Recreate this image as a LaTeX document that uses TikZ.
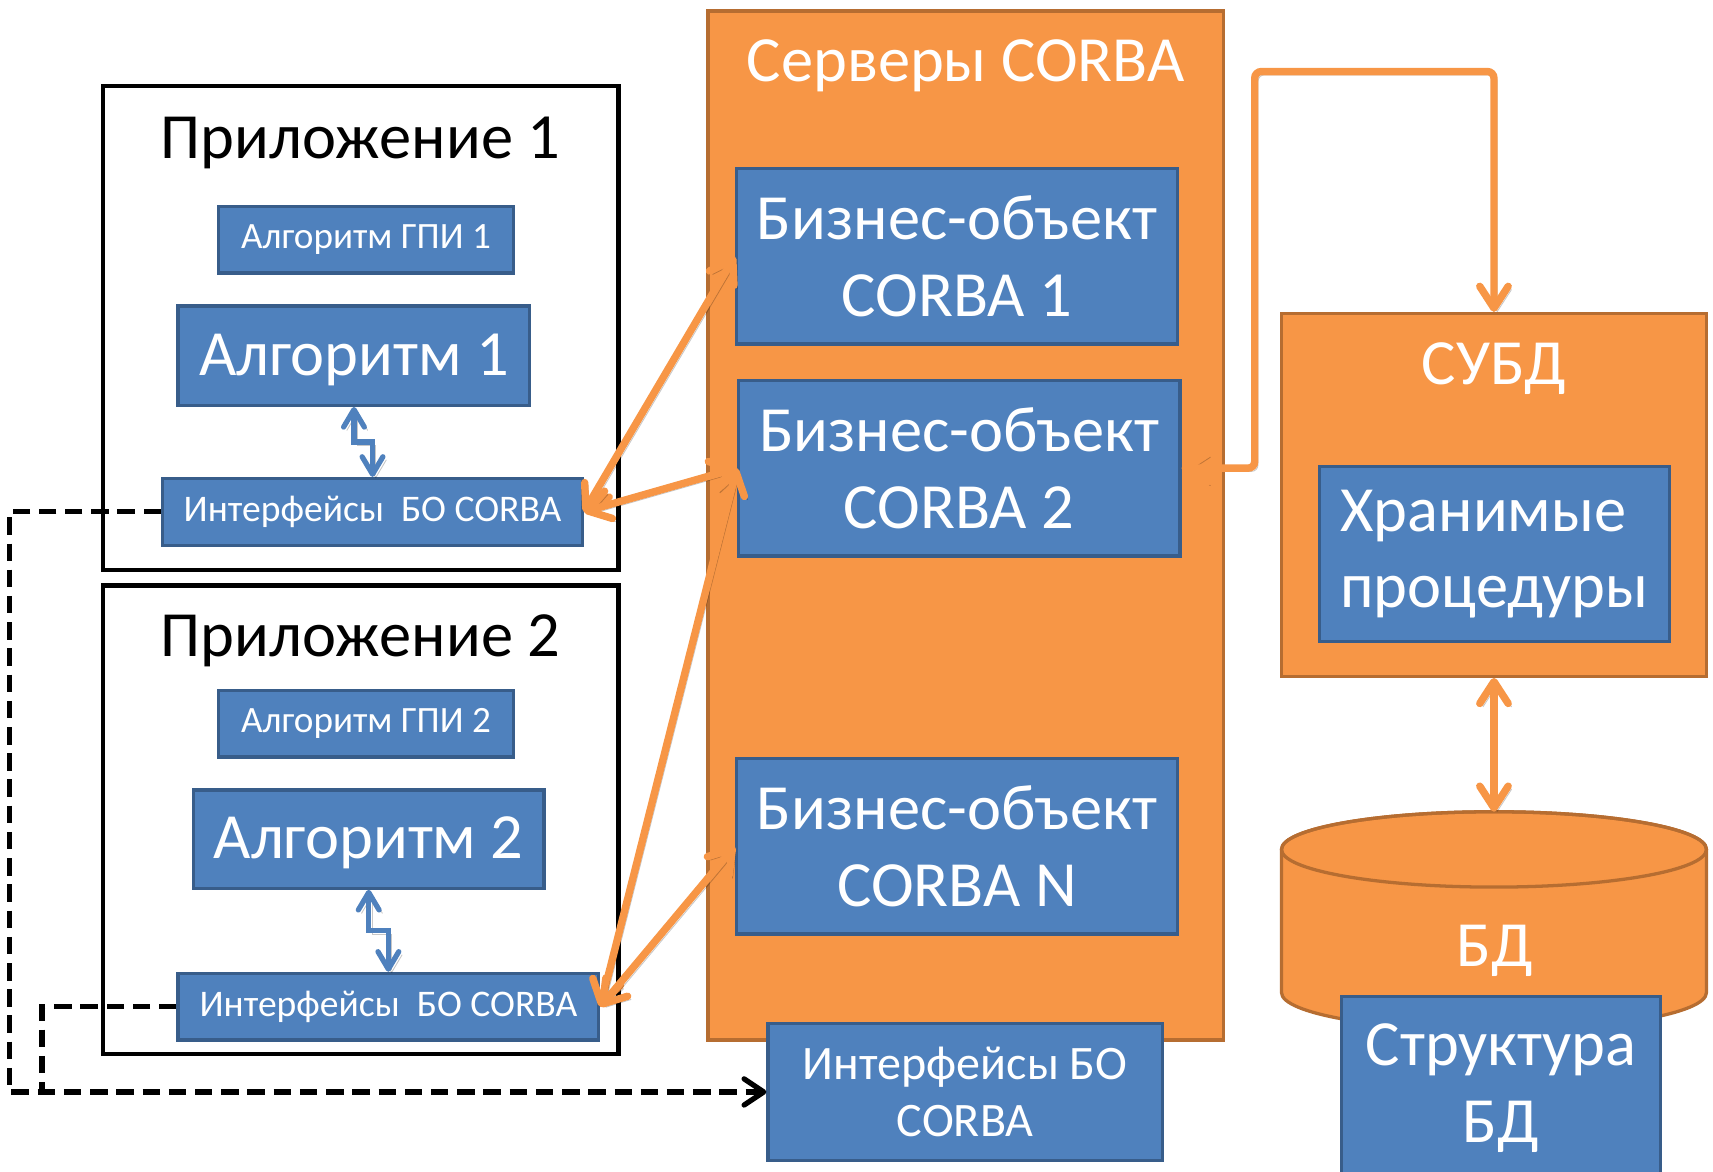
\documentclass[tikz,border=0pt]{standalone}
\usepackage{fontspec}
\setmainfont{Carlito}
\usetikzlibrary{arrows.meta,calc}
\definecolor{bfill}{HTML}{4F81BD}
\definecolor{bline}{HTML}{385D8A}
\definecolor{ofill}{HTML}{F79646}
\definecolor{oline}{HTML}{B66D31}
\begin{document}
\begin{tikzpicture}[x=0.5pt,y=-0.5pt,
  bbox/.style={draw=bline, fill=bfill, line width=1.5pt, text=white, inner sep=0pt, align=center},
  obox/.style={draw=oline, fill=ofill, line width=1.5pt, inner sep=0pt},
  appbox/.style={draw=black, line width=2pt, inner sep=0pt},
  bigtxt/.style={font=\fontsize{29.5}{35}\selectfont},
  smalltxt/.style={font=\fontsize{17}{20}\selectfont},
  iftxt/.style={font=\fontsize{17.2}{20}\selectfont},
  ifbtxt/.style={font=\fontsize{22}{26}\selectfont},
  shad/.style={preaction={draw=black, draw opacity=0.22, transform canvas={shift={(1.5pt,-1.5pt)}}}},
  oarr/.style={shad, draw=ofill, line width=3.4pt, >={Straight Barb[length=10pt,width=13pt,round]}},
  barr/.style={shad, draw=bfill, line width=2.4pt, >={Straight Barb[length=8pt,width=9.5pt,round]}},
  dsh/.style={draw=black, line width=2.4pt, dash pattern=on 8pt off 4pt, >={Straight Barb[length=9pt,width=12pt,round]}}
]
\useasboundingbox (0,0) rectangle (1568,1072);

% containers
\node[appbox, minimum width=236pt, minimum height=221.5pt] (app1) at (330,300.5) {};
\node[appbox, minimum width=236pt, minimum height=214.5pt] (app2) at (330,750.5) {};
\node[obox, minimum width=236pt, minimum height=471pt] (srv) at (884,481) {};
\node[obox, minimum width=194.5pt, minimum height=166pt] (subd) at (1367.5,453) {};

% titles
\node[bigtxt, anchor=base, text=white] (tsrv) at (884,75) {Серверы CORBA};
\node[bigtxt, anchor=base] (tapp1) at (330,145) {Приложение 1};
\node[bigtxt, anchor=base] (tapp2) at (330,601) {Приложение 2};
\node[bigtxt, anchor=base, text=white] (tsubd) at (1367.5,352) {СУБД};

% cylinder
\draw[draw=oline, fill=ofill, line width=1.5pt] (1173,777.5) -- (1173,908.5)
  arc[start angle=180, end angle=0, x radius=194.5, y radius=34.5] -- (1562,777.5)
  arc[start angle=0, end angle=-180, x radius=194.5, y radius=34.5] -- cycle;
\draw[draw=oline, line width=1.5pt] (1367.5,777.5) ellipse [x radius=194.5, y radius=34.5];
\coordinate (dbtop) at (1367.5,743);
\node[bigtxt, anchor=base, text=white] (tdb) at (1368,885) {БД};

% blue boxes
\node[bbox, smalltxt, minimum width=135pt, minimum height=30.5pt] (gpi1) at (335,219.5) {Алгоритм ГПИ 1};
\node[bbox, bigtxt, text height=22pt, text depth=4pt, minimum width=161pt, minimum height=45.5pt] (alg1) at (324,325.5) {Алгоритм 1};
\node[bbox, iftxt, minimum width=192pt, minimum height=30.5pt] (if1) at (341,468.5) {Интерфейсы\ \ БО CORBA};
\node[bbox, smalltxt, minimum width=135pt, minimum height=30.5pt] (gpi2) at (335,662.5) {Алгоритм ГПИ 2};
\node[bbox, bigtxt, text height=22pt, text depth=4pt, minimum width=160.5pt, minimum height=45pt] (alg2) at (337.5,768) {Алгоритм 2};
\node[bbox, iftxt, minimum width=192.5pt, minimum height=30.5pt] (if2) at (355.5,921.5) {Интерфейсы\ \ БО CORBA};

\node[bbox, bigtxt, minimum width=202pt, minimum height=80.5pt] (bo1) at (876,234.5) {Бизнес-объект\\CORBA 1};
\node[bbox, bigtxt, minimum width=202pt, minimum height=80.5pt] (bo2) at (878,428.5) {Бизнес-объект\\CORBA 2};
\node[bbox, bigtxt, minimum width=202pt, minimum height=80.5pt] (bon) at (876,774.5) {Бизнес-объект\\CORBA N};
\node[bbox, ifbtxt, minimum width=180.5pt, minimum height=62.5pt] (ifb) at (883.5,999.5) {Интерфейсы БО\\CORBA};

\node[bbox, bigtxt, align=left, minimum width=160pt, minimum height=80pt] (proc) at (1368,507) {Хранимые\\процедуры};
\node[bbox, bigtxt, minimum width=146pt, minimum height=84pt] (struct) at (1374,996) {Структура\\БД};

% connectors
\draw[barr,<->] (alg1.south) |- ($(alg1.south)!0.5!(if1.north)$) -| (if1.north);
\draw[barr,<->] (alg2.south) |- ($(alg2.south)!0.5!(if2.north)$) -| (if2.north);

\draw[oarr,<->] (if1.east) -- (bo1.west);
\draw[oarr,<->] (if1.east) -- (bo2.west);
\draw[oarr,<->] (if2.east) -- (bo2.west);
\draw[oarr,<->] (if2.east) -- (bon.west);
\draw[oarr,<->, rounded corners=3pt] (bo2.east) -- ++(67,0) |- ($(subd.north)+(0,-220)$) -- (subd.north);
\draw[oarr,<->] (subd.south) -- (dbtop);

\draw[dsh,->] (if1.west) -- ++(-139,0) |- (ifb.west);
\draw[dsh] (if2.west) -| ($(ifb.west)+(-663,0)$);
\end{tikzpicture}
\end{document}
